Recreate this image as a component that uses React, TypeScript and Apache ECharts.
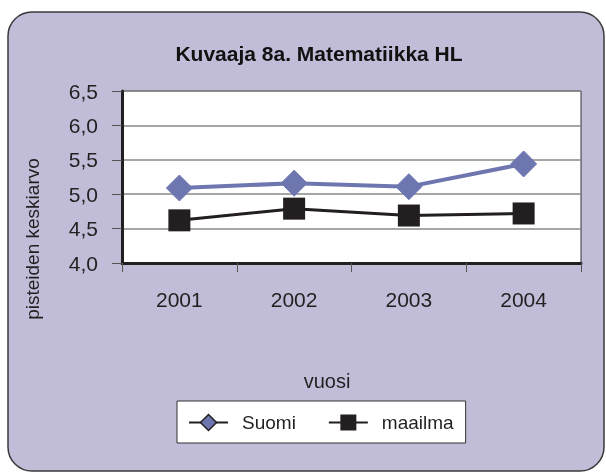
import React, { useEffect, useRef } from "react";
import * as echarts from "echarts";

const years = ["2001", "2002", "2003", "2004"];
const suomi = [5.09, 5.16, 5.11, 5.44];
const maailma = [4.62, 4.79, 4.69, 4.72];
const titleText = "Kuvaaja 8a. Matematiikka HL";
const yName = "pisteiden keskiarvo";
const xName = "vuosi";

const FONT = "'Liberation Sans', Arial, sans-serif";
const PURPLE = "#6e76b0";
const DARK = "#231f20";

export default function App() {
  const ref = useRef<HTMLDivElement>(null);
  useEffect(() => {
    if (!ref.current) return;
    const chart = echarts.init(ref.current, null, { renderer: "svg" });
    chart.setOption({
      animation: false,
      textStyle: { fontFamily: FONT },
      graphic: [
        {
          type: "rect",
          z: -10,
          silent: true,
          shape: { x: 8, y: 12, width: 596, height: 459, r: 24 },
          style: { fill: "#c1bdd8", stroke: "#3a3a3a", lineWidth: 1.5 },
        },
        {
          type: "text",
          x: 319,
          y: 53,
          style: {
            text: titleText,
            font: `bold 21px ${FONT}`,
            fill: "#111",
            align: "center",
            verticalAlign: "middle",
          },
        },
        {
          type: "text",
          x: 32,
          y: 239,
          rotation: Math.PI / 2,
          style: {
            text: yName,
            font: `19px ${FONT}`,
            fill: DARK,
            align: "center",
            verticalAlign: "middle",
          },
        },
        {
          type: "text",
          x: 327,
          y: 381,
          style: {
            text: xName,
            font: `20px ${FONT}`,
            fill: DARK,
            align: "center",
            verticalAlign: "middle",
          },
        },
      ],
      grid: {
        left: 122,
        top: 91,
        width: 459,
        height: 172,
        show: true,
        backgroundColor: "#ffffff",
        borderColor: "#333",
        borderWidth: 1,
      },
      legend: {
        left: 177,
        top: 401,
        padding: [12, 12, 11, 11],
        itemGap: 32,
        itemWidth: 39,
        itemHeight: 20,
        backgroundColor: "#ffffff",
        borderColor: "#333",
        borderWidth: 1,
        textStyle: { fontSize: 19, color: DARK, fontFamily: FONT, padding: [0, 0, 0, 9] },
        data: [
          {
            name: "Suomi",
            itemStyle: { color: PURPLE, borderColor: DARK, borderWidth: 1.5 },
            lineStyle: { color: DARK, width: 2 },
          },
          {
            name: "maailma",
            itemStyle: { color: DARK },
            lineStyle: { color: DARK, width: 2 },
          },
        ],
      },
      xAxis: {
        type: "category",
        data: years,
        boundaryGap: true,
        axisLine: { lineStyle: { color: DARK, width: 3 } },
        axisTick: { show: true, length: 9, lineStyle: { color: "#555", width: 1 } },
        axisLabel: { fontSize: 21, color: DARK, margin: 26 },
        splitLine: { show: false },
      },
      yAxis: {
        type: "value",
        min: 4,
        max: 6.5,
        interval: 0.5,
        axisLine: { show: true, lineStyle: { color: DARK, width: 3 } },
        axisTick: { show: true, length: 10, lineStyle: { color: "#555", width: 1 } },
        axisLabel: {
          fontSize: 21,
          color: DARK,
          margin: 24,
          formatter: (v: number) => v.toFixed(1).replace(".", ","),
        },
        splitLine: { show: true, lineStyle: { color: "#888", width: 1.5 } },
      },
      series: [
        {
          name: "Suomi",
          type: "line",
          data: suomi,
          symbol: "diamond",
          symbolSize: 26,
          lineStyle: { color: PURPLE, width: 4 },
          itemStyle: { color: PURPLE, borderColor: PURPLE },
          z: 3,
        },
        {
          name: "maailma",
          type: "line",
          data: maailma,
          symbol: "rect",
          symbolSize: 22,
          lineStyle: { color: DARK, width: 3 },
          itemStyle: { color: DARK },
          z: 2,
        },
      ],
    });
    return () => chart.dispose();
  }, []);
  return (
    <div
      ref={ref}
      style={{ position: "fixed", left: 0, top: 0, width: 606, height: 474 }}
    />
  );
}
